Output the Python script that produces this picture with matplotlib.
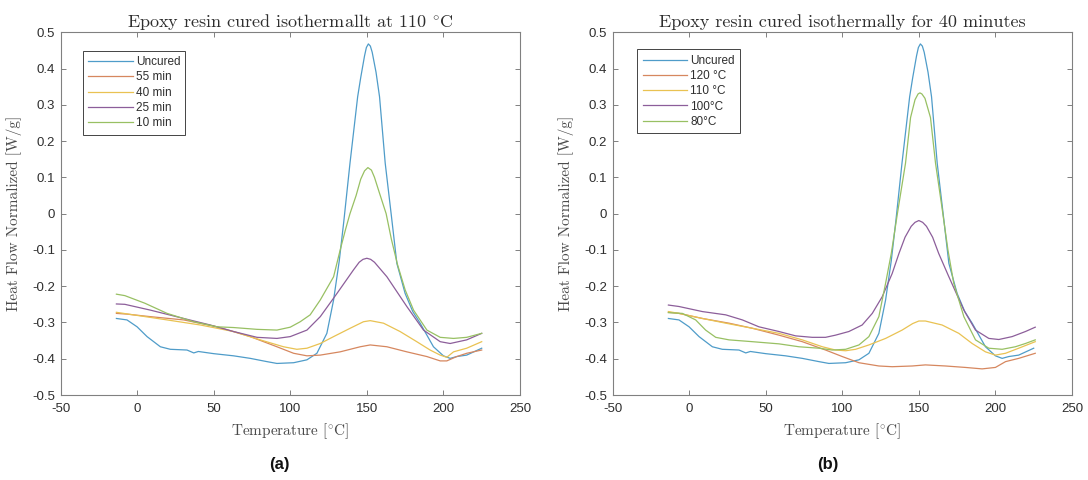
import matplotlib
matplotlib.use("Agg")
import matplotlib.pyplot as plt
from matplotlib.ticker import FuncFormatter

plt.rcParams['mathtext.fontset'] = 'cm'
plt.rcParams['axes.unicode_minus'] = False

# ---------------- data ----------------
# Uncured sample (same curve in both panels)
uncured_T = [-13.5, -6.6, 0, 6.5, 15.2, 21.7, 32.6, 37, 40, 50, 63, 73.9, 84.8, 91.3,
             102.2, 110.9, 117.4, 123.9, 128.3, 132, 135, 139, 144, 146, 148.5, 149.7,
             151, 152.3, 153.5, 156, 158.3, 162, 166, 169.6, 175, 180, 184.8, 193.5,
             200, 204.4, 208.7, 215.2, 225]
uncured_v = [-0.289, -0.293, -0.312, -0.339, -0.367, -0.374, -0.376, -0.384, -0.380,
             -0.386, -0.392, -0.399, -0.408, -0.413, -0.411, -0.403, -0.385, -0.330,
             -0.238, -0.13, -0.02, 0.139, 0.322, 0.375, 0.435, 0.458, 0.468, 0.462,
             0.445, 0.39, 0.322, 0.139, -0.005, -0.137, -0.22, -0.27, -0.302, -0.367,
             -0.392, -0.399, -0.394, -0.390, -0.371]

# Panel (a): cured at 110 degC for different times
a55_T = [-13.5, -6.6, 8.7, 30.4, 52.2, 73.9, 91.3, 102.2, 110.9, 119.6, 132.6, 145.7,
         152.2, 163.1, 176.1, 189.2, 197.9, 202.2, 208.7, 215.2, 225]
a55_v = [-0.275, -0.277, -0.284, -0.293, -0.312, -0.339, -0.367, -0.385, -0.392, -0.390,
         -0.381, -0.367, -0.362, -0.367, -0.381, -0.394, -0.406, -0.406, -0.394, -0.385,
         -0.376]

a40_T = [-13.5, -2.5, 19.6, 41.3, 63, 80.4, 95.6, 104.3, 110.9, 119.6, 128.3, 139.1,
         147.8, 152.2, 160.9, 171.7, 182.6, 191.3, 197.9, 202.2, 206.6, 215.2, 225]
a40_v = [-0.272, -0.279, -0.293, -0.307, -0.325, -0.348, -0.367, -0.374, -0.371, -0.358,
         -0.339, -0.316, -0.298, -0.295, -0.302, -0.325, -0.353, -0.376, -0.390, -0.396,
         -0.381, -0.371, -0.353]

a25_T = [-13.5, -8, 8.7, 30.4, 47.8, 63.0, 78.3, 91.3, 100, 110.9, 119.6, 130.5, 141.3,
         145, 147.5, 150, 152.5, 155, 163.1, 176.1, 187, 197.9, 204.4, 215.2, 225]
a25_v = [-0.249, -0.250, -0.266, -0.289, -0.307, -0.325, -0.341, -0.344, -0.339, -0.321,
         -0.284, -0.220, -0.155, -0.134, -0.126, -0.123, -0.126, -0.134, -0.174, -0.256,
         -0.321, -0.353, -0.358, -0.348, -0.330]

a10_T = [-13.5, -8, 5.1, 19.6, 37, 52.2, 63, 78.3, 91.3, 100, 106.5, 113, 119.6, 128.3,
         132.6, 136, 139, 143, 146, 148.5, 150.7, 153, 155, 158, 162.6, 166, 170, 175,
         180.5, 189.2, 197.9, 206.6, 215.2, 225]
a10_v = [-0.222, -0.226, -0.247, -0.275, -0.298, -0.312, -0.314, -0.319, -0.321, -0.313,
         -0.298, -0.279, -0.238, -0.174, -0.10, -0.045, 0.0, 0.05, 0.095, 0.118, 0.127,
         0.12, 0.10, 0.06, 0.0, -0.07, -0.14, -0.21, -0.266, -0.321, -0.341, -0.344,
         -0.341, -0.330]

# Panel (b): cured for 40 minutes at different temperatures
b120_T = [-13.5, -6.6, 8.7, 26.1, 41.3, 58.7, 73.9, 89.1, 100, 110.9, 123.9, 132.6,
          145.7, 154.3, 167.4, 180.4, 191.3, 200, 206.6, 215.2, 226]
b120_v = [-0.272, -0.275, -0.289, -0.302, -0.316, -0.335, -0.353, -0.376, -0.394, -0.411,
          -0.420, -0.422, -0.420, -0.417, -0.420, -0.424, -0.428, -0.424, -0.408, -0.399,
          -0.385]

b110_T = [-13.5, -6.6, 8.7, 23.9, 41.3, 58.7, 73.9, 87, 95.6, 102.2, 108.7, 117.4, 128.3,
          139.1, 146, 150, 154.3, 165.2, 176.1, 184.8, 193.5, 200, 206.6, 215.2, 226]
b110_v = [-0.270, -0.275, -0.289, -0.302, -0.316, -0.330, -0.348, -0.367, -0.376, -0.378,
          -0.374, -0.362, -0.344, -0.321, -0.303, -0.296, -0.296, -0.307, -0.330, -0.358,
          -0.381, -0.390, -0.385, -0.371, -0.353]

b100_T = [-13.5, -6.6, 8.7, 23.9, 34.8, 45.6, 58.7, 69.6, 80.4, 89.1, 95.6, 104.3, 113,
          119.6, 126.1, 132.6, 137, 141, 145, 147.5, 150, 152.5, 155, 159, 163, 169.6,
          179.4, 187, 195.7, 202.2, 210.9, 219.6, 226]
b100_v = [-0.252, -0.256, -0.270, -0.279, -0.293, -0.312, -0.325, -0.337, -0.341, -0.341,
          -0.335, -0.325, -0.307, -0.275, -0.229, -0.165, -0.11, -0.065, -0.035, -0.024,
          -0.019, -0.024, -0.035, -0.065, -0.11, -0.174, -0.266, -0.321, -0.344, -0.347,
          -0.339, -0.325, -0.313]

b80_T = [-13.5, -4.4, 4.3, 10.8, 17.4, 26.1, 41.3, 58.7, 71.7, 84.8, 93.5, 102.2, 110.9,
         117.4, 123.9, 128.3, 132, 136, 141.3, 144.6, 147.5, 149.5, 150.7, 152, 154,
         157.6, 160.9, 165, 169, 172.8, 179.4, 187, 195.7, 204.4, 213, 219.6, 226]
b80_v = [-0.273, -0.275, -0.293, -0.321, -0.341, -0.348, -0.353, -0.359, -0.367, -0.371,
         -0.376, -0.374, -0.362, -0.339, -0.284, -0.192, -0.11, 0.0, 0.139, 0.265, 0.314,
         0.330, 0.333, 0.330, 0.318, 0.265, 0.139, 0.02, -0.1, -0.192, -0.284, -0.348,
         -0.371, -0.374, -0.367, -0.358, -0.348]

labels_a = ['Uncured', '55 min', '40 min', '25 min', '10 min']
labels_b = ['Uncured', '120 °C', '110 °C', '100°C', '80°C']
colors = ['#4f9cc9', '#d6875f', '#e9c252', '#8c5e9a', '#98c063']

xticks = [-50, 0, 50, 100, 150, 200, 250]
yticks = [-0.5, -0.4, -0.3, -0.2, -0.1, 0, 0.1, 0.2, 0.3, 0.4, 0.5]

title_a = r'Epoxy resin cured isothermallt at 110 $^{\circ}$C'
title_b = 'Epoxy resin cured isothermally for 40 minutes'
xlabel = r'Temperature [$^{\circ}$C]'
ylabel = 'Heat Flow Normalized [W/g]'

# ---------------- figure ----------------
W, H = 1088, 480
fig = plt.figure(figsize=(W / 100, H / 100), dpi=100)

serif = 'cmr10'
txt_col = '#2e2e2e'
lab_col = '#4a4a4a'
spine_col = '#808080'
sans = ['Liberation Sans', 'DejaVu Sans']


def fmt(v, pos):
    if abs(v) < 1e-9:
        return '0'
    return '%g' % round(v, 2)


def setup(ax, title):
    ax.set_xlim(-50, 250)
    ax.set_ylim(-0.5, 0.5)
    ax.set_xticks(xticks)
    ax.set_yticks(yticks)
    ax.yaxis.set_major_formatter(FuncFormatter(fmt))
    ax.xaxis.set_major_formatter(FuncFormatter(lambda v, p: '%d' % v))
    ax.tick_params(direction='in', length=3.5, width=0.7, color=spine_col,
                   top=True, right=True, labelsize=9.5, labelcolor=txt_col)
    ax.tick_params(axis='x', pad=6)
    ax.tick_params(axis='y', pad=4)
    for sp in ax.spines.values():
        sp.set_color(spine_col)
        sp.set_linewidth(0.8)
    for lab in ax.get_xticklabels() + ax.get_yticklabels():
        lab.set_family(sans)
    ax.set_title(title, family=serif, fontsize=13, color=txt_col, pad=3.6)
    ax.set_xlabel(xlabel, family=serif, fontsize=11, color=lab_col)
    ax.set_ylabel(ylabel, family=serif, fontsize=11, color=lab_col)
    ax.xaxis.set_label_coords(0.5, (395 - 431) / 362.7)
    ax.xaxis.label.set_va('center')
    ax.yaxis.set_label_coords(-46.5 / 459.5, 0.5)
    ax.yaxis.label.set_va('center')


ax_h = 362.7 / H
ax_w = 459.5 / W
ax_b = 1 - 395 / H
ax1 = fig.add_axes([60.5 / W, ax_b, ax_w, ax_h])
ax2 = fig.add_axes([612.5 / W, ax_b, ax_w, ax_h])

series_a = [(uncured_T, uncured_v), (a55_T, a55_v), (a40_T, a40_v),
            (a25_T, a25_v), (a10_T, a10_v)]
series_b = [(uncured_T, uncured_v), (b120_T, b120_v), (b110_T, b110_v),
            (b100_T, b100_v), (b80_T, b80_v)]

for ax, series, labels, title, leg_x, leg_y in [
        (ax1, series_a, labels_a, title_a, 0.048, 0.949),
        (ax2, series_b, labels_b, title_b, 0.054, 0.953)]:
    for (T, v), lab, c in zip(series, labels, colors):
        ax.plot(T, v, color=c, lw=0.9, label=lab)
    setup(ax, title)
    leg = ax.legend(loc='upper left', bbox_to_anchor=(leg_x, leg_y),
                    frameon=True, fancybox=False, framealpha=1,
                    edgecolor='#444444', borderaxespad=0, borderpad=0.45,
                    handlelength=3.8, handletextpad=0.25, labelspacing=0.28,
                    prop={'family': sans, 'size': 8.5})
    leg.get_frame().set_linewidth(0.7)
    for t in leg.get_texts():
        t.set_color(txt_col)

fig.text(279 / W, 1 - 465 / H, '(a)', ha='center', va='center', fontsize=12,
         fontweight='bold', family=sans, color='#111111')
fig.text(828 / W, 1 - 465 / H, '(b)', ha='center', va='center', fontsize=12,
         fontweight='bold', family=sans, color='#111111')

fig.savefig('out.png', dpi=100)
